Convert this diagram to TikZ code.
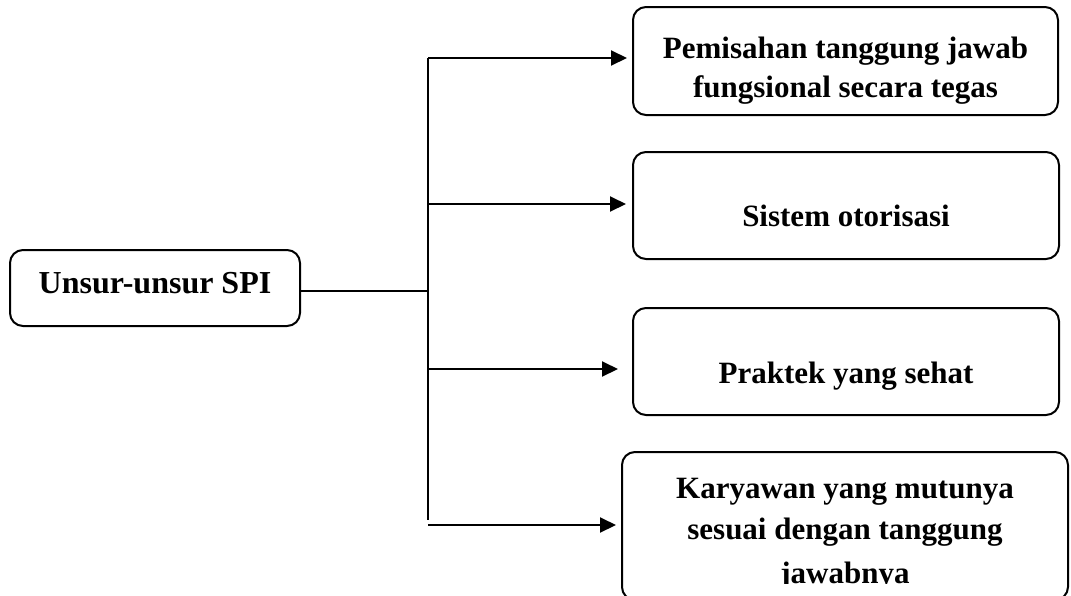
\documentclass[tikz,border=0pt]{standalone}
\usepackage{fontspec}
\setmainfont{Liberation Serif}
\usetikzlibrary{arrows.meta}
\begin{document}
\begin{tikzpicture}[x=1pt,y=-1pt,
  box/.style={draw=black,line width=2pt,rounded corners=13pt},
  txt/.style={anchor=base,inner sep=0pt,font=\fontsize{31}{40}\selectfont\bfseries},
  conn/.style={draw=black,line width=2pt},
  arr/.style={conn,-{Triangle[length=16pt,width=15pt]}}]
\clip (0,0) rectangle (1071,595);
\fill[white] (0,0) rectangle (1071,595);
% boxes
\node[box,minimum width=290pt,minimum height=76pt] (src) at (155,288) {};
\node[box,minimum width=425pt,minimum height=108pt] (b1) at (845.5,61) {};
\node[box,minimum width=426pt,minimum height=107pt] (b2) at (846,205.5) {};
\node[box,minimum width=426pt,minimum height=107pt] (b3) at (846,361.5) {};
\node[box,minimum width=446pt,minimum height=148pt] (b4) at (845,526) {};
% texts
\node[txt,font=\fontsize{32}{40}\selectfont\bfseries] (ts) at (155,293) {Unsur-unsur SPI};
\node[txt] (t1a) at (845.5,58) {Pemisahan tanggung jawab};
\node[txt] (t1b) at (845.5,97) {fungsional secara tegas};
\node[txt] (t2) at (846,226) {Sistem otorisasi};
\node[txt] (t3) at (846,383) {Praktek yang sehat};
\node[txt] (t4a) at (845,498) {Karyawan yang mutunya};
\node[txt] (t4b) at (845,539) {sesuai dengan tanggung};
\begin{scope}
\clip (622,452) rectangle (1068,583);
\node[txt] (t4c) at (845,583) {jawabnya};
\end{scope}
% connectors
\coordinate (jm) at (428,291);
\coordinate (j1) at (428,58);
\coordinate (j2) at (428,204);
\coordinate (j3) at (428,369);
\coordinate (j4) at (428,525);
\coordinate (jend) at (428,520);
\draw[conn] (src.east |- jm) -- (jm);
\draw[conn] (j1) -- (jend);
\draw[arr,shorten >=5pt] (j1) -- (j1 -| b1.west);
\draw[arr,shorten >=6pt] (j2) -- (j2 -| b2.west);
\draw[arr,shorten >=14pt] (j3) -- (j3 -| b3.west);
\draw[arr,shorten >=5pt] (j4) -- (j4 -| b4.west);
\end{tikzpicture}
\end{document}
